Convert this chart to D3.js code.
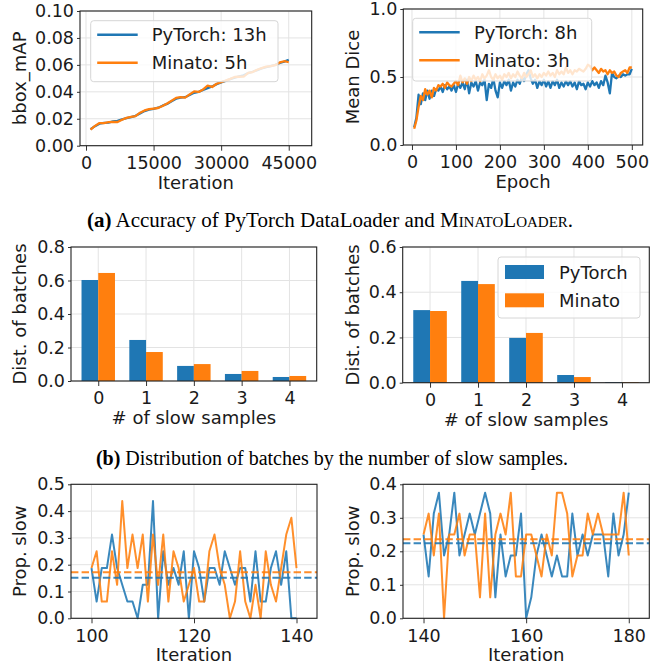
<!DOCTYPE html>
<html>
<head>
<meta charset="utf-8">
<script src="https://cdn.jsdelivr.net/npm/d3@7"></script>
<style>
  body { margin: 0; background: #ffffff; }
  svg text { font-family: 'DejaVu Sans', sans-serif; fill: #1a1a1a; }
  .caption { font-family: 'Liberation Serif', serif; font-size: 21px; fill: #000; }
</style>
</head>
<body>
<div id="chart"></div>
<script>
// ---- data ----
var seriesNames = ['PyTorch', 'Minato'];
var colours = ['#1f77b4', '#ff7f0e'];

// (a) left: bbox_mAP, checkpoints every 1000 iterations
var mapIters = d3.range(1000, 46000, 1000);
var mapPyTorch = [0.0122, 0.0145, 0.0163, 0.0170, 0.0172, 0.0180, 0.0184, 0.0195, 0.0204, 0.0212,
                  0.0222, 0.0240, 0.0257, 0.0267, 0.0274, 0.0282, 0.0297, 0.0310, 0.0330, 0.0349,
                  0.0357, 0.0360, 0.0377, 0.0393, 0.0400, 0.0414, 0.0427, 0.0440, 0.0457, 0.0470,
                  0.0481, 0.0494, 0.0505, 0.0515, 0.0522, 0.0539, 0.0549, 0.0561, 0.0574, 0.0584,
                  0.0591, 0.0600, 0.0614, 0.0624, 0.0638];
var mapMinato  = [0.0120, 0.0147, 0.0168, 0.0167, 0.0175, 0.0177, 0.0176, 0.0193, 0.0207, 0.0214,
                  0.0219, 0.0245, 0.0262, 0.0272, 0.0276, 0.0280, 0.0295, 0.0314, 0.0334, 0.0355,
                  0.0360, 0.0357, 0.0381, 0.0403, 0.0399, 0.0418, 0.0446, 0.0436, 0.0460, 0.0472,
                  0.0483, 0.0496, 0.0510, 0.0512, 0.0513, 0.0541, 0.0547, 0.0564, 0.0576, 0.0587,
                  0.0590, 0.0598, 0.0618, 0.0627, 0.0621];
var mapLabels = ['PyTorch: 13h', 'Minato: 5h'];

// (a) right: Mean Dice, every 5 epochs
var diceEpochs = d3.range(5, 505, 5);
var dicePyTorch = [0.13, 0.20, 0.37, 0.30, 0.38, 0.33, 0.40, 0.34, 0.40, 0.36,
                   0.41, 0.40, 0.43, 0.39, 0.44, 0.41, 0.43, 0.40, 0.44, 0.39,
                   0.45, 0.42, 0.46, 0.41, 0.48, 0.38, 0.46, 0.43, 0.47, 0.40,
                   0.46, 0.44, 0.48, 0.33, 0.45, 0.42, 0.49, 0.40, 0.35, 0.46,
                   0.42, 0.47, 0.44, 0.48, 0.40, 0.46, 0.43, 0.48, 0.45, 0.50,
                   0.47, 0.52, 0.55, 0.49, 0.45, 0.48, 0.42, 0.47, 0.44, 0.48,
                   0.43, 0.47, 0.42, 0.47, 0.44, 0.48, 0.42, 0.46, 0.43, 0.47,
                   0.44, 0.47, 0.43, 0.46, 0.41, 0.47, 0.44, 0.45, 0.41, 0.46,
                   0.43, 0.47, 0.44, 0.46, 0.42, 0.47, 0.44, 0.51, 0.46, 0.38,
                   0.53, 0.50, 0.49, 0.51, 0.50, 0.52, 0.51, 0.52, 0.52, 0.56];
var diceMinato  = [0.12, 0.18, 0.28, 0.36, 0.33, 0.41, 0.37, 0.40, 0.35, 0.42,
                   0.40, 0.44, 0.43, 0.45, 0.42, 0.46, 0.44, 0.43, 0.45, 0.47,
                   0.44, 0.51, 0.46, 0.49, 0.45, 0.50, 0.47, 0.51, 0.48, 0.50,
                   0.47, 0.52, 0.49, 0.51, 0.55, 0.50, 0.48, 0.52, 0.49, 0.51,
                   0.48, 0.52, 0.50, 0.53, 0.49, 0.52, 0.50, 0.54, 0.51, 0.49,
                   0.53, 0.50, 0.52, 0.55, 0.50, 0.52, 0.49, 0.52, 0.50, 0.53,
                   0.51, 0.54, 0.51, 0.53, 0.50, 0.55, 0.52, 0.54, 0.52, 0.57,
                   0.53, 0.55, 0.52, 0.55, 0.54, 0.56, 0.55, 0.54, 0.56, 0.59,
                   0.58, 0.55, 0.57, 0.55, 0.53, 0.56, 0.54, 0.55, 0.52, 0.55,
                   0.53, 0.54, 0.51, 0.50, 0.53, 0.54, 0.55, 0.53, 0.57, 0.57];
var diceLabels = ['PyTorch: 8h', 'Minato: 3h'];

// (b) distribution of batches by # of slow samples
var slowCounts = [0, 1, 2, 3, 4];
var distLeftPyTorch  = [0.603, 0.245, 0.090, 0.042, 0.024];
var distLeftMinato   = [0.645, 0.173, 0.101, 0.060, 0.030];
var distRightPyTorch = [0.321, 0.450, 0.198, 0.034, 0.003];
var distRightMinato  = [0.317, 0.436, 0.220, 0.025, 0.003];

// (c) proportion of slow samples per iteration (batch of 16)
var propItersLeft  = d3.range(100, 141);
var propLeftPyTorch = [3, 1, 3, 3, 5, 3, 2, 1, 1, 0, 2, 2, 7, 0, 4, 2, 3, 2, 4, 0,
                       4, 3, 1, 3, 3, 2, 4, 3, 2, 3, 3, 1, 4, 1, 1, 3, 4, 2, 4, 0, 0].map(function (d) { return d / 16; });
var propLeftMinato  = [3, 4, 1, 1, 4, 2, 7, 3, 5, 3, 5, 1, 5, 2, 5, 1, 4, 3, 1, 2,
                       3, 1, 1, 4, 5, 3, 2, 0, 1, 4, 1, 0, 2, 0, 4, 2, 1, 3, 5, 6, 3].map(function (d) { return d / 16; });
var propItersRight = d3.range(140, 181);
var propRightPyTorch = [4, 2, 5, 6, 3, 4, 6, 3, 4, 5, 4, 5, 6, 5, 1, 4, 2, 3, 3, 5,
                        0, 1, 3, 4, 3, 2, 3, 2, 2, 5, 3, 4, 3, 4, 4, 4, 2, 5, 3, 4, 6].map(function (d) { return d / 16; });
var propRightMinato  = [4, 5, 3, 5, 0, 4, 4, 5, 3, 4, 4, 1, 5, 1, 4, 5, 4, 6, 2, 2,
                        4, 4, 3, 2, 4, 3, 6, 6, 5, 2, 3, 3, 5, 4, 5, 4, 4, 4, 4, 6, 3].map(function (d) { return d / 16; });

// ---- layout ----
var svg = d3.select('#chart').append('svg')
            .attr('width', 660)
            .attr('height', 667);

var fontSize = 18;
var tickFontSize = 17.5;

function makePanel (p)
{
    var g = svg.append('g').attr('transform', 'translate(' + p.x + ',' + p.y + ')');

    var xScale = d3.scaleLinear().domain(p.xDomain).range([0, p.w]);
    var yScale = d3.scaleLinear().domain(p.yDomain).range([p.h, 0]);

    // grid
    var grid = g.append('g');
    grid.selectAll('line.gx')
        .data(p.xTicks)
        .enter().append('line')
        .attr('x1', function (d) { return xScale(d); })
        .attr('x2', function (d) { return xScale(d); })
        .attr('y1', 0).attr('y2', p.h)
        .attr('stroke', '#e3e3e3').attr('stroke-width', 1);
    grid.selectAll('line.gy')
        .data(p.yTicks)
        .enter().append('line')
        .attr('y1', function (d) { return yScale(d); })
        .attr('y2', function (d) { return yScale(d); })
        .attr('x1', 0).attr('x2', p.w)
        .attr('stroke', '#e3e3e3').attr('stroke-width', 1);

    var marks = g.append('g');
    var top = g.append('g');

    var xAxis = d3.axisBottom(xScale).tickValues(p.xTicks).tickFormat(p.xFmt)
                  .tickSize(5).tickPadding(6).tickSizeOuter(0);
    var yAxis = d3.axisLeft(yScale).tickValues(p.yTicks).tickFormat(p.yFmt)
                  .tickSize(3).tickPadding(3).tickSizeOuter(0);

    var ax = top.append('g').attr('transform', 'translate(0,' + p.h + ')').call(xAxis);
    var ay = top.append('g').call(yAxis);
    [ax, ay].forEach(function (a) {
        a.select('.domain').remove();
        a.selectAll('line').attr('stroke', '#333');
        a.selectAll('text').attr('font-size', tickFontSize + 'px').attr('fill', '#1a1a1a');
    });

    // frame
    top.append('rect')
       .attr('width', p.w).attr('height', p.h)
       .attr('fill', 'none').attr('stroke', '#222').attr('stroke-width', 1.1);

    top.append('text')
       .attr('x', p.w / 2).attr('y', p.h + 43)
       .attr('text-anchor', 'middle')
       .attr('font-size', fontSize + 'px')
       .text(p.xLabel);

    top.append('text')
       .attr('transform', 'translate(' + (p.yLabelX - p.x) + ',' + (p.h / 2) + ') rotate(-90)')
       .attr('dy', '0.35em')
       .attr('text-anchor', 'middle')
       .attr('font-size', fontSize + 'px')
       .text(p.yLabel);

    return { g: g, marks: marks, top: top, x: xScale, y: yScale };
}

function drawLine (panel, xs, ys, colour, width, opacity)
{
    var line = d3.line()
                 .x(function (d, i) { return panel.x(xs[i]); })
                 .y(function (d) { return panel.y(d); });
    panel.marks.append('path')
         .datum(ys)
         .attr('d', line)
         .attr('fill', 'none')
         .attr('stroke', colour)
         .attr('stroke-width', width)
         .attr('stroke-linejoin', 'round')
         .attr('opacity', opacity);
}

function lineLegend (panel, box, labels)
{
    var lg = panel.top.append('g').attr('transform', 'translate(' + box.x + ',' + box.y + ')');
    lg.append('rect')
      .attr('width', box.w).attr('height', box.h)
      .attr('rx', 3)
      .attr('fill', '#ffffff').attr('fill-opacity', 0.8)
      .attr('stroke', '#d6d6d6').attr('stroke-width', 1);
    labels.forEach(function (lab, i) {
        var cy = 14 + i * 28;
        lg.append('line')
          .attr('x1', 6.5).attr('x2', 47)
          .attr('y1', cy).attr('y2', cy)
          .attr('stroke', colours[i]).attr('stroke-width', 2.5);
        lg.append('text')
          .attr('x', box.tx).attr('y', cy + 6.5)
          .attr('font-size', fontSize + 'px')
          .text(lab);
    });
}

// ---- (a) left ----
var pA1 = makePanel({ x: 80, y: 11, w: 231.7, h: 134.7,
                      xDomain: [-1333, 50100], yDomain: [0, 0.1],
                      xTicks: [0, 15000, 30000, 45000], yTicks: [0, 0.02, 0.04, 0.06, 0.08, 0.10],
                      xFmt: d3.format('d'), yFmt: d3.format('.2f'),
                      xLabel: 'Iteration', yLabel: 'bbox_mAP', yLabelX: 20 });
drawLine(pA1, mapIters, mapPyTorch, colours[0], 2.3, 1);
drawLine(pA1, mapIters, mapMinato, colours[1], 2.3, 1);
lineLegend(pA1, { x: 10.7, y: 9.7, w: 187.3, h: 61, tx: 61 }, mapLabels);

// ---- (a) right ----
var pA2 = makePanel({ x: 403.3, y: 9, w: 239.4, h: 136,
                      xDomain: [-19.75, 524.75], yDomain: [0, 1],
                      xTicks: [0, 100, 200, 300, 400, 500], yTicks: [0, 0.5, 1.0],
                      xFmt: d3.format('d'), yFmt: d3.format('.1f'),
                      xLabel: 'Epoch', yLabel: 'Mean Dice', yLabelX: 352.5 });
drawLine(pA2, diceEpochs, dicePyTorch, colours[0], 2.3, 1);
drawLine(pA2, diceEpochs, diceMinato, colours[1], 2.3, 1);
lineLegend(pA2, { x: 9.4, y: 9.3, w: 179, h: 62.7, tx: 61.3 }, diceLabels);

// ---- (b) bars ----
function drawBars (panel, a, b)
{
    var bw = 0.35;
    [a, b].forEach(function (vals, s) {
        panel.marks.selectAll('rect.s' + s)
             .data(vals)
             .enter().append('rect')
             .attr('x', function (d, i) { return panel.x(slowCounts[i] - bw + s * bw); })
             .attr('width', panel.x(bw) - panel.x(0))
             .attr('y', function (d) { return panel.y(d); })
             .attr('height', function (d) { return panel.y(0) - panel.y(d); })
             .attr('fill', colours[s]);
    });
}

var pB1 = makePanel({ x: 71, y: 247, w: 245.7, h: 134,
                      xDomain: [-0.57, 4.57], yDomain: [0, 0.8],
                      xTicks: slowCounts, yTicks: [0, 0.2, 0.4, 0.6, 0.8],
                      xFmt: d3.format('d'), yFmt: d3.format('.1f'),
                      xLabel: '# of slow samples', yLabel: 'Dist. of batches', yLabelX: 20 });
drawBars(pB1, distLeftPyTorch, distLeftMinato);

var pB2 = makePanel({ x: 402.7, y: 247, w: 246.6, h: 135.7,
                      xDomain: [-0.57, 4.57], yDomain: [0, 0.6],
                      xTicks: slowCounts, yTicks: [0, 0.2, 0.4, 0.6],
                      xFmt: d3.format('d'), yFmt: d3.format('.1f'),
                      xLabel: '# of slow samples', yLabel: 'Dist. of batches', yLabelX: 352.5 });
drawBars(pB2, distRightPyTorch, distRightMinato);

// bar legend
var blg = pB2.top.append('g').attr('transform', 'translate(95.3,10)');
blg.append('rect')
   .attr('width', 142).attr('height', 61).attr('rx', 3)
   .attr('fill', '#ffffff').attr('fill-opacity', 0.8)
   .attr('stroke', '#d6d6d6');
seriesNames.forEach(function (name, i) {
    blg.append('rect')
       .attr('x', 7).attr('y', 8 + i * 28.3)
       .attr('width', 39).attr('height', 14)
       .attr('fill', colours[i]);
    blg.append('text')
       .attr('x', 61).attr('y', 21.5 + i * 28.3)
       .attr('font-size', fontSize + 'px')
       .text(name);
});

// ---- (c) proportion slow ----
function drawProp (panel, xs, a, b)
{
    drawLine(panel, xs, a, colours[0], 2, 0.88);
    drawLine(panel, xs, b, colours[1], 2, 0.88);
    [a, b].forEach(function (vals, s) {
        var m = d3.mean(vals);
        panel.marks.append('line')
             .attr('x1', 0).attr('x2', panel.x.range()[1])
             .attr('y1', panel.y(m)).attr('y2', panel.y(m))
             .attr('stroke', colours[s]).attr('stroke-width', 2)
             .attr('stroke-dasharray', '7.4,3.2')
             .attr('opacity', 0.88);
    });
}

var pC1 = makePanel({ x: 71, y: 484.3, w: 246, h: 134,
                      xDomain: [96, 144], yDomain: [0, 0.5],
                      xTicks: [100, 120, 140], yTicks: [0, 0.1, 0.2, 0.3, 0.4, 0.5],
                      xFmt: d3.format('d'), yFmt: d3.format('.1f'),
                      xLabel: 'Iteration', yLabel: 'Prop. slow', yLabelX: 20 });
drawProp(pC1, propItersLeft, propLeftPyTorch, propLeftMinato);

var pC2 = makePanel({ x: 403, y: 484.3, w: 246.3, h: 134,
                      xDomain: [136, 184], yDomain: [0, 0.4],
                      xTicks: [140, 160, 180], yTicks: [0, 0.1, 0.2, 0.3, 0.4],
                      xFmt: d3.format('d'), yFmt: d3.format('.1f'),
                      xLabel: 'Iteration', yLabel: 'Prop. slow', yLabelX: 352.5 });
drawProp(pC2, propItersRight, propRightPyTorch, propRightMinato);

// ---- captions ----
var capA = svg.append('text').attr('class', 'caption')
              .attr('x', 330).attr('y', 227).attr('text-anchor', 'middle');
capA.append('tspan').attr('font-weight', 'bold').text('(a)');
capA.append('tspan').text(' Accuracy of PyTorch DataLoader and ');
capA.append('tspan').style('font-variant', 'small-caps').text('MinatoLoader');
capA.append('tspan').text('.');

var capB = svg.append('text').attr('class', 'caption')
              .attr('x', 332).attr('y', 465).attr('text-anchor', 'middle')
              .style('font-size', '20px');
capB.append('tspan').attr('font-weight', 'bold').text('(b)');
capB.append('tspan').text(' Distribution of batches by the number of slow samples.');
</script>
</body>
</html>
